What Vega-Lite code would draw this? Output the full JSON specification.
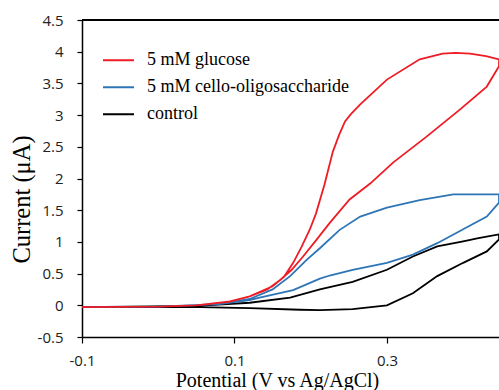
{
  "$schema": "https://vega.github.io/schema/vega-lite/v6.json",
  "width": 417,
  "height": 317,
  "autosize": {"type": "none"},
  "padding": {"left": 82, "top": 20, "right": 0, "bottom": 53},
  "background": "white",
  "config": {
    "view": {"stroke": null},
    "axis": {"domainColor": "black", "domainWidth": 1.5, "tickColor": "black", "tickWidth": 1.2, "grid": false, "labelColor": "#222", "labelFont": "Open Sans", "labelFontSize": 15, "titleFont": "Liberation Serif", "titleFontWeight": "normal", "titleColor": "black"},
    "legend": {"labelFont": "Liberation Serif", "labelFontSize": 18, "labelColor": "black"}
  },
  "data": {"values": [
    {"s":"5 mM glucose","i":0,"x":-0.1,"y":-0.03},
    {"s":"5 mM glucose","i":1,"x":-0.05,"y":-0.025},
    {"s":"5 mM glucose","i":2,"x":0.0,"y":-0.02},
    {"s":"5 mM glucose","i":3,"x":0.05,"y":0.0},
    {"s":"5 mM glucose","i":4,"x":0.094,"y":0.06},
    {"s":"5 mM glucose","i":5,"x":0.12,"y":0.14},
    {"s":"5 mM glucose","i":6,"x":0.143,"y":0.25},
    {"s":"5 mM glucose","i":7,"x":0.16,"y":0.4},
    {"s":"5 mM glucose","i":8,"x":0.175,"y":0.56},
    {"s":"5 mM glucose","i":9,"x":0.19,"y":0.77},
    {"s":"5 mM glucose","i":10,"x":0.208,"y":1.04},
    {"s":"5 mM glucose","i":11,"x":0.225,"y":1.3},
    {"s":"5 mM glucose","i":12,"x":0.251,"y":1.67},
    {"s":"5 mM glucose","i":13,"x":0.278,"y":1.92},
    {"s":"5 mM glucose","i":14,"x":0.308,"y":2.25},
    {"s":"5 mM glucose","i":15,"x":0.352,"y":2.66},
    {"s":"5 mM glucose","i":16,"x":0.396,"y":3.09},
    {"s":"5 mM glucose","i":17,"x":0.431,"y":3.45},
    {"s":"5 mM glucose","i":18,"x":0.447,"y":3.77},
    {"s":"5 mM glucose","i":19,"x":0.447,"y":3.88},
    {"s":"5 mM glucose","i":20,"x":0.43,"y":3.93},
    {"s":"5 mM glucose","i":21,"x":0.409,"y":3.97},
    {"s":"5 mM glucose","i":22,"x":0.39,"y":3.98},
    {"s":"5 mM glucose","i":23,"x":0.373,"y":3.97},
    {"s":"5 mM glucose","i":24,"x":0.343,"y":3.88},
    {"s":"5 mM glucose","i":25,"x":0.3,"y":3.56},
    {"s":"5 mM glucose","i":26,"x":0.265,"y":3.17},
    {"s":"5 mM glucose","i":27,"x":0.253,"y":3.02},
    {"s":"5 mM glucose","i":28,"x":0.245,"y":2.9},
    {"s":"5 mM glucose","i":29,"x":0.237,"y":2.68},
    {"s":"5 mM glucose","i":30,"x":0.229,"y":2.42},
    {"s":"5 mM glucose","i":31,"x":0.218,"y":1.9},
    {"s":"5 mM glucose","i":32,"x":0.207,"y":1.45},
    {"s":"5 mM glucose","i":33,"x":0.199,"y":1.2},
    {"s":"5 mM glucose","i":34,"x":0.188,"y":0.92},
    {"s":"5 mM glucose","i":35,"x":0.177,"y":0.67},
    {"s":"5 mM glucose","i":36,"x":0.165,"y":0.45},
    {"s":"5 mM glucose","i":37,"x":0.15,"y":0.3},
    {"s":"5 mM glucose","i":38,"x":0.12,"y":0.14},
    {"s":"5 mM glucose","i":39,"x":0.094,"y":0.06},
    {"s":"5 mM glucose","i":40,"x":0.05,"y":0.0},
    {"s":"5 mM glucose","i":41,"x":0.0,"y":-0.02},
    {"s":"5 mM glucose","i":42,"x":-0.1,"y":-0.03},
    {"s":"5 mM cello-oligosaccharide","i":0,"x":-0.1,"y":-0.03},
    {"s":"5 mM cello-oligosaccharide","i":1,"x":0.0,"y":-0.02},
    {"s":"5 mM cello-oligosaccharide","i":2,"x":0.08,"y":0.02},
    {"s":"5 mM cello-oligosaccharide","i":3,"x":0.12,"y":0.08},
    {"s":"5 mM cello-oligosaccharide","i":4,"x":0.133,"y":0.12},
    {"s":"5 mM cello-oligosaccharide","i":5,"x":0.155,"y":0.18},
    {"s":"5 mM cello-oligosaccharide","i":6,"x":0.177,"y":0.24},
    {"s":"5 mM cello-oligosaccharide","i":7,"x":0.212,"y":0.42},
    {"s":"5 mM cello-oligosaccharide","i":8,"x":0.225,"y":0.47},
    {"s":"5 mM cello-oligosaccharide","i":9,"x":0.255,"y":0.56},
    {"s":"5 mM cello-oligosaccharide","i":10,"x":0.3,"y":0.67},
    {"s":"5 mM cello-oligosaccharide","i":11,"x":0.334,"y":0.8},
    {"s":"5 mM cello-oligosaccharide","i":12,"x":0.366,"y":0.98},
    {"s":"5 mM cello-oligosaccharide","i":13,"x":0.4,"y":1.2},
    {"s":"5 mM cello-oligosaccharide","i":14,"x":0.431,"y":1.4},
    {"s":"5 mM cello-oligosaccharide","i":15,"x":0.447,"y":1.62},
    {"s":"5 mM cello-oligosaccharide","i":16,"x":0.447,"y":1.75},
    {"s":"5 mM cello-oligosaccharide","i":17,"x":0.418,"y":1.75},
    {"s":"5 mM cello-oligosaccharide","i":18,"x":0.387,"y":1.75},
    {"s":"5 mM cello-oligosaccharide","i":19,"x":0.343,"y":1.66},
    {"s":"5 mM cello-oligosaccharide","i":20,"x":0.3,"y":1.54},
    {"s":"5 mM cello-oligosaccharide","i":21,"x":0.265,"y":1.4},
    {"s":"5 mM cello-oligosaccharide","i":22,"x":0.238,"y":1.19},
    {"s":"5 mM cello-oligosaccharide","i":23,"x":0.212,"y":0.9},
    {"s":"5 mM cello-oligosaccharide","i":24,"x":0.195,"y":0.72},
    {"s":"5 mM cello-oligosaccharide","i":25,"x":0.173,"y":0.46},
    {"s":"5 mM cello-oligosaccharide","i":26,"x":0.15,"y":0.25},
    {"s":"5 mM cello-oligosaccharide","i":27,"x":0.12,"y":0.1},
    {"s":"5 mM cello-oligosaccharide","i":28,"x":0.08,"y":0.02},
    {"s":"5 mM cello-oligosaccharide","i":29,"x":0.0,"y":-0.02},
    {"s":"5 mM cello-oligosaccharide","i":30,"x":-0.1,"y":-0.03},
    {"s":"control","i":0,"x":-0.1,"y":-0.03},
    {"s":"control","i":1,"x":0.0,"y":-0.03},
    {"s":"control","i":2,"x":0.055,"y":-0.03},
    {"s":"control","i":3,"x":0.12,"y":-0.045},
    {"s":"control","i":4,"x":0.186,"y":-0.07},
    {"s":"control","i":5,"x":0.212,"y":-0.075},
    {"s":"control","i":6,"x":0.255,"y":-0.06},
    {"s":"control","i":7,"x":0.3,"y":0.0},
    {"s":"control","i":8,"x":0.334,"y":0.19},
    {"s":"control","i":9,"x":0.366,"y":0.46},
    {"s":"control","i":10,"x":0.4,"y":0.67},
    {"s":"control","i":11,"x":0.431,"y":0.85},
    {"s":"control","i":12,"x":0.447,"y":1.04},
    {"s":"control","i":13,"x":0.447,"y":1.12},
    {"s":"control","i":14,"x":0.42,"y":1.06},
    {"s":"control","i":15,"x":0.4,"y":1.01},
    {"s":"control","i":16,"x":0.366,"y":0.93},
    {"s":"control","i":17,"x":0.334,"y":0.77},
    {"s":"control","i":18,"x":0.3,"y":0.56},
    {"s":"control","i":19,"x":0.255,"y":0.37},
    {"s":"control","i":20,"x":0.212,"y":0.25},
    {"s":"control","i":21,"x":0.173,"y":0.12},
    {"s":"control","i":22,"x":0.12,"y":0.04},
    {"s":"control","i":23,"x":0.05,"y":-0.01},
    {"s":"control","i":24,"x":-0.1,"y":-0.03}
  ]},
  "encoding": {
    "x": {"field": "x", "type": "quantitative", "scale": {"domain": [-0.1, 0.447], "nice": false, "zero": false},
      "axis": {"values": [-0.1, 0.1, 0.3], "tickSize": 6, "labelPadding": 10, "labelFont": "Open Sans", "labelFontSize": 15, "labelExpr": "replace(format(datum.value, '.1f'), '\u2212', '-')", "title": "Potential (V vs Ag/AgCl)", "titleFont": "Liberation Serif", "titleFontSize": 20, "titleX": 195, "titleY": 49, "titleBaseline": "alphabetic", "titleAlign": "center", "labelFlush": false}},
    "y": {"field": "y", "type": "quantitative", "scale": {"domain": [-0.5, 4.5], "nice": false, "zero": false},
      "axis": {"values": [-0.5, 0, 0.5, 1, 1.5, 2, 2.5, 3, 3.5, 4, 4.5], "tickSize": 5, "labelPadding": 14, "labelFont": "Open Sans", "labelFontSize": 15, "labelExpr": "replace(format(datum.value, '~g'), '\u2212', '-')", "title": "Current (μA)", "titleFont": "Liberation Serif", "titleFontSize": 24.5, "titleX": -52.5, "titleY": 179, "titleBaseline": "alphabetic", "titleAlign": "center", "titleAngle": -90}},
    "color": {"field": "s", "type": "nominal",
      "scale": {"domain": ["5 mM glucose", "5 mM cello-oligosaccharide", "control"], "range": ["#EE1C25", "#2E75B6", "#000000"]},
      "legend": {"title": null, "orient": "none", "legendX": 20, "legendY": 27, "padding": 0, "symbolType": "stroke", "symbolSize": 961, "symbolStrokeWidth": 2, "labelFont": "Liberation Serif", "labelFontSize": 18, "labelColor": "black", "labelOffset": 12, "clipHeight": 26.7, "rowPadding": 0, "labelLimit": 400}},
    "order": {"field": "i", "type": "quantitative"}
  },
  "layer": [
    {"transform": [{"filter": "datum.s === 'control'"}], "mark": {"type": "line", "strokeWidth": 1.8, "clip": true}},
    {"transform": [{"filter": "datum.s === '5 mM cello-oligosaccharide'"}], "mark": {"type": "line", "strokeWidth": 1.8, "clip": true}},
    {"transform": [{"filter": "datum.s === '5 mM glucose'"}], "mark": {"type": "line", "strokeWidth": 1.8, "clip": true}},
    {"mark": {"type": "rule", "color": "black", "strokeWidth": 1.5}, "encoding": {"y": {"datum": 4.5}, "x": null, "color": null, "order": null}}
  ]
}
